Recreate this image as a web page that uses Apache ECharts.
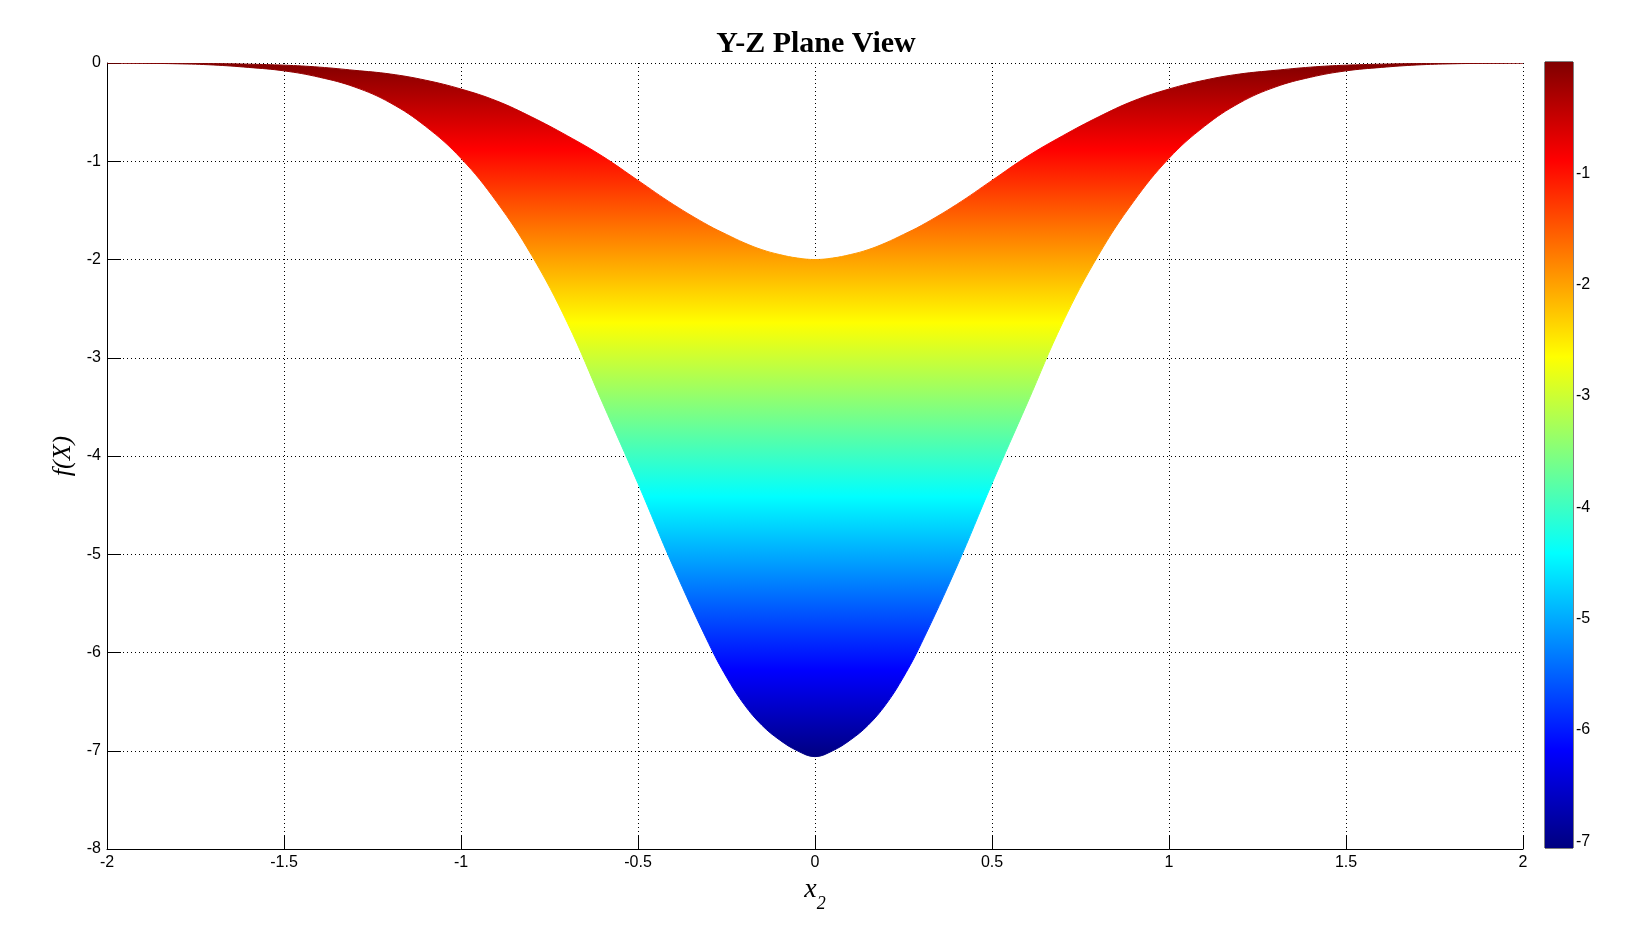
<!DOCTYPE html>
<html>
<head>
<meta charset="UTF-8">
<title>Y-Z Plane View</title>
<script src="https://cdn.jsdelivr.net/npm/echarts@6/dist/echarts.min.js"></script>
<style>
html, body { margin: 0; padding: 0; background: #fff; }
#main { width: 1632px; height: 945px; }
</style>
</head>
<body>
<div id="main"></div>
<script>
// x2 sample positions (denser near the bottom of the well)
var xs = [-2.0, -1.9, -1.8, -1.7, -1.6, -1.5, -1.4, -1.3, -1.2, -1.1, -1.0,
          -0.9, -0.8, -0.7, -0.6, -0.5, -0.4, -0.3, -0.25, -0.2, -0.15, -0.1, -0.05, 0.0,
          0.05, 0.1, 0.15, 0.2, 0.25, 0.3, 0.4, 0.5, 0.6, 0.7, 0.8, 0.9, 1.0,
          1.1, 1.2, 1.3, 1.4, 1.5, 1.6, 1.7, 1.8, 1.9, 2.0];
// top edge of the surface seen from the side
var upper = [0, -0.001, -0.003, -0.006, -0.012, -0.022, -0.042, -0.075, -0.112, -0.175, -0.265,
             -0.385, -0.55, -0.74, -0.95, -1.195, -1.44, -1.655, -1.745, -1.83, -1.90, -1.95, -1.985, -2.0,
             -1.985, -1.95, -1.90, -1.83, -1.745, -1.655, -1.44, -1.195, -0.95, -0.74, -0.55, -0.385, -0.265,
             -0.175, -0.112, -0.075, -0.042, -0.022, -0.012, -0.006, -0.003, -0.001, 0];
// bottom edge
var lower = [0, -0.003, -0.008, -0.02, -0.045, -0.08, -0.145, -0.245, -0.405, -0.645, -0.97,
             -1.41, -1.96, -2.64, -3.46, -4.28, -5.13, -5.91, -6.25, -6.53, -6.74, -6.89, -7.00, -7.06,
             -7.00, -6.89, -6.74, -6.53, -6.25, -5.91, -5.13, -4.28, -3.46, -2.64, -1.96, -1.41, -0.97,
             -0.645, -0.405, -0.245, -0.145, -0.08, -0.045, -0.02, -0.008, -0.003, 0];
// colour scale
var cbMin = -7.06;
var cbMax = 0;
var cbTicks = [-7, -6, -5, -4, -3, -2, -1];

// jet colormap, top (max) to bottom (min)
function jet() {
  return new echarts.graphic.LinearGradient(0, 0, 0, 1, [
    { offset: 0, color: '#800000' },
    { offset: 0.125, color: '#ff0000' },
    { offset: 0.375, color: '#ffff00' },
    { offset: 0.5, color: '#80ff80' },
    { offset: 0.625, color: '#00ffff' },
    { offset: 0.875, color: '#0000ff' },
    { offset: 1, color: '#000080' }
  ]);
}

// outline: along the top edge, back along the bottom edge
function renderSurface(params, api) {
  var pts = [];
  for (var i = 0; i < xs.length; i++) {
    pts.push(api.coord([xs[i], upper[i]]));
  }
  for (var j = xs.length - 2; j > 0; j--) {
    pts.push(api.coord([xs[j], lower[j]]));
  }
  return {
    type: 'polygon',
    shape: { points: pts, smooth: 0.4 },
    style: { fill: jet(), stroke: jet(), lineWidth: 1 }
  };
}

var labelFont = { color: '#000', fontSize: 16, fontFamily: 'Liberation Sans' };
var dots = { color: '#000', width: 1, type: [1, 3] };

var myChart = echarts.init(document.getElementById('main'));
var option = {
  animation: false,
  backgroundColor: '#fff',
  title: {
    text: 'Y-Z Plane View',
    left: 'center',
    top: 24,
    textStyle: { fontFamily: 'Liberation Serif', fontWeight: 'bold', fontSize: 30, color: '#000' }
  },
  grid: [
    { left: 107, right: 109, top: 63, bottom: 96 },
    { left: 1545, width: 28, top: 62, bottom: 97, show: true, borderColor: '#000', borderWidth: 1 }
  ],
  xAxis: [
    {
      type: 'value', gridIndex: 0, min: -2, max: 2, interval: 0.5,
      axisLine: { onZero: false, lineStyle: { color: '#000', width: 1 } },
      axisTick: { inside: true, length: 14, lineStyle: { color: '#000' } },
      axisLabel: Object.assign({ margin: 6 }, labelFont),
      splitLine: { show: true, lineStyle: dots },
      name: '{x|x}{s|2}',
      nameLocation: 'middle',
      nameGap: 16,
      nameTextStyle: {
        rich: {
          x: { fontFamily: 'Liberation Serif', fontStyle: 'italic', fontSize: 28, lineHeight: 46, color: '#000' },
          s: { fontFamily: 'Liberation Serif', fontStyle: 'italic', fontSize: 18, lineHeight: 18, verticalAlign: 'bottom', color: '#000' }
        }
      }
    },
    { type: 'category', gridIndex: 1, data: ['c'], show: false }
  ],
  yAxis: [
    {
      type: 'value', gridIndex: 0, min: -8, max: 0, interval: 1,
      axisLine: { onZero: false, lineStyle: { color: '#000', width: 1 } },
      axisTick: { inside: true, length: 14, lineStyle: { color: '#000' } },
      axisLabel: Object.assign({ margin: 6 }, labelFont),
      splitLine: { show: true, lineStyle: dots },
      name: 'f(X)',
      nameLocation: 'middle',
      nameGap: 25,
      nameTextStyle: { fontFamily: 'Liberation Serif', fontStyle: 'italic', fontSize: 26, color: '#000' }
    },
    {
      type: 'value', gridIndex: 1, min: cbMin, max: cbMax, position: 'right',
      axisLine: { show: false },
      axisTick: { inside: true, length: 8, customValues: cbTicks, lineStyle: { color: '#000' } },
      axisLabel: Object.assign({ margin: 3, customValues: cbTicks }, labelFont),
      splitLine: { show: false }
    },
    {
      type: 'value', gridIndex: 1, min: cbMin, max: cbMax, position: 'left',
      axisLine: { show: false },
      axisTick: { inside: true, length: 8, customValues: cbTicks, lineStyle: { color: '#000' } },
      axisLabel: { show: false },
      splitLine: { show: false }
    }
  ],
  series: [
    {
      name: 'surface',
      type: 'custom',
      xAxisIndex: 0, yAxisIndex: 0,
      data: [[0, cbMin]],
      renderItem: renderSurface,
      clip: true,
      silent: true,
      z: 2
    },
    {
      name: 'colorbar',
      type: 'bar',
      xAxisIndex: 1, yAxisIndex: 1,
      data: [cbMin],
      barWidth: '100%',
      silent: true,
      itemStyle: { color: jet() }
    }
  ]
};
myChart.setOption(option);
</script>
</body>
</html>
